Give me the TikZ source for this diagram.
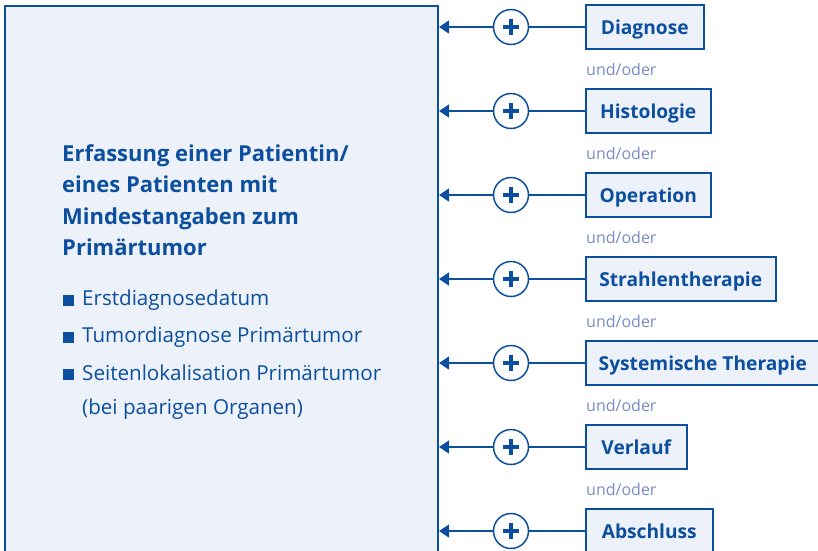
\documentclass[tikz,border=0pt]{standalone}
\usepackage{fontspec}
\setmainfont{Open Sans}
\usetikzlibrary{arrows.meta}
\definecolor{dblue}{HTML}{0B4F9E}
\definecolor{lfill}{HTML}{EDF1F9}
\definecolor{undc}{HTML}{7A8CC8}
\begin{document}
\begin{tikzpicture}[x=1pt,y=-1pt,
  bigbox/.style={draw=dblue, line width=2pt, fill=lfill, anchor=north west, minimum width=433pt, minimum height=600pt, inner sep=0pt},
  itembox/.style={draw=dblue, line width=1.5pt, fill=lfill, minimum height=44pt, anchor=west, font=\fontsize{19.2}{22}\selectfont\bfseries, text=dblue, inner sep=0pt, text height=14pt, text depth=0pt},
  plusc/.style={circle, draw=dblue, line width=1.5pt, fill=white, minimum size=35pt, inner sep=0pt},
  plusbar/.style={dblue, line width=3.5pt},
  conn/.style={dblue, line width=1.5pt},
  arr/.style={conn, -{Triangle[length=10pt,width=13pt]}},
  undoder/.style={anchor=base west, text=undc, font=\fontsize{16}{18}\selectfont, inner sep=0pt},
  title/.style={anchor=base west, text=dblue, font=\fontsize{22}{25}\selectfont\bfseries, inner sep=0pt},
  btext/.style={anchor=base west, text=dblue, font=\fontsize{20.6}{23}\selectfont, inner sep=0pt},
  bsq/.style={fill=dblue, minimum size=11pt, inner sep=0pt}
]
\useasboundingbox (0,0) rectangle (818,550);
\clip (0,0) rectangle (818,550);
\fill[white] (0,0) rectangle (818,550);
\node[bigbox] (main) at (4,5) {};

\node[title] (t1) at (62,161) {Erfassung einer Patientin/};
\node[title] (t2) at (62,192.5) {eines Patienten mit};
\node[title] (t3) at (62,224) {Mindestangaben zum};
\node[title] (t4) at (62,255.5) {Primärtumor};

\node[bsq] (q1) at (68.5,300) {};
\node[btext] (b1) at (82,305.7) {Erstdiagnosedatum};
\node[bsq] (q2) at (68.5,337) {};
\node[btext] (b2) at (82,342.7) {Tumordiagnose Primärtumor};
\node[bsq] (q3) at (68.5,374.3) {};
\node[btext] (b3) at (82,380) {Seitenlokalisation Primärtumor};
\node[btext] (b4) at (82,414) {(bei paarigen Organen)};

\foreach \i/\txt/\w in {0/Diagnose/118, 1/Histologie/125, 2/Operation/125, 3/Strahlentherapie/190, 4/Systemische Therapie/234, 5/Verlauf/101, 6/Abschluss/127}{
  \node[itembox, minimum width=\w pt] (box\i) at (585,27+84*\i) {\txt};
  \node[plusc] (pc\i) at (511,27+84*\i) {};
  \draw[plusbar] ([xshift=-8pt]pc\i.center) -- ([xshift=8pt]pc\i.center);
  \draw[plusbar] ([yshift=-8pt]pc\i.center) -- ([yshift=8pt]pc\i.center);
  \draw[conn] (box\i.west) -- (pc\i.east);
  \draw[arr] (pc\i.west) -- (main.east |- pc\i.west);
}
\foreach \i in {0,...,5}{
  \node[undoder] (u\i) at (586,75+84*\i) {und/oder};
}
\end{tikzpicture}
\end{document}
